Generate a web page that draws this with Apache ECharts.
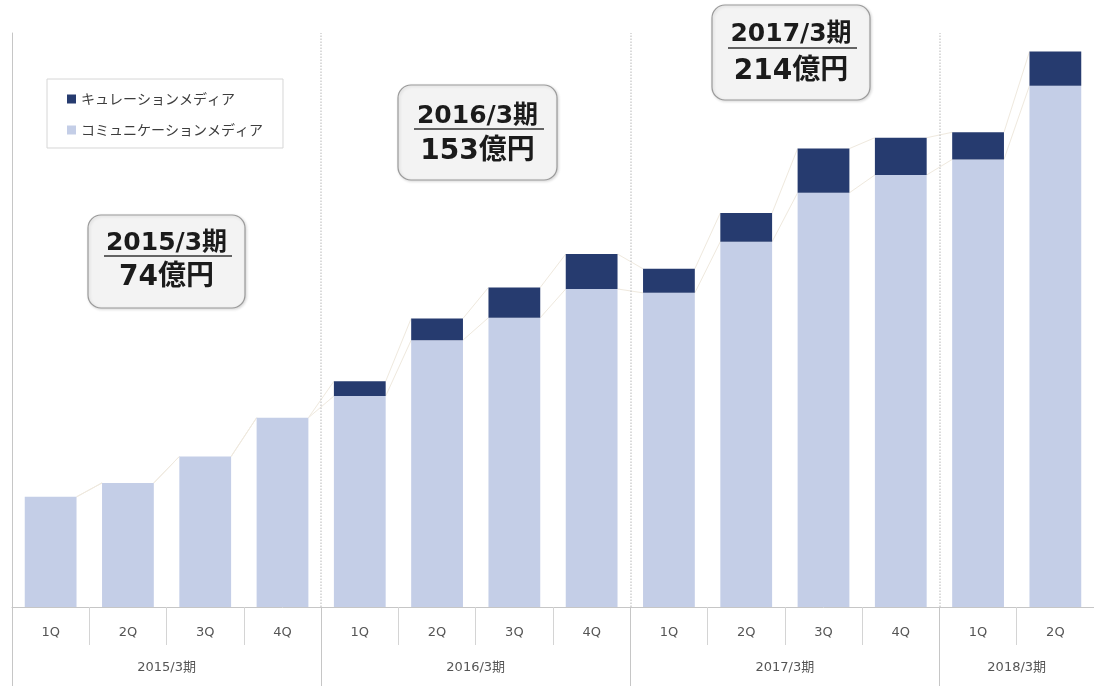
<!DOCTYPE html>
<html>
<head>
<meta charset="utf-8">
<script src="https://cdn.jsdelivr.net/npm/echarts@6/dist/echarts.min.js"></script>
<style>
  html, body { margin: 0; padding: 0; background: #fff; }
  #chart { width: 1094px; height: 686px; }
</style>
</head>
<body>
<div id="chart"></div>
<script>
// Quarterly sales (億円) by media type
const quarters = ['1Q', '2Q', '3Q', '4Q', '1Q', '2Q', '3Q', '4Q', '1Q', '2Q', '3Q', '4Q', '1Q', '2Q'];
const fiscalYears = ['2015/3期', '2016/3期', '2017/3期', '2018/3期'];
const yearBounds = [0, 4, 8, 12, 14];      // category index where each fiscal year starts/ends
const yearCenters = [2, 6, 10, 13];
const communication = [14.2, 16.0, 19.4, 24.4, 27.2, 34.4, 37.3, 41.0, 40.5, 47.1, 53.4, 55.7, 57.7, 67.2];
const curation      = [0, 0, 0, 0, 1.9, 2.8, 3.9, 4.5, 3.1, 3.7, 5.7, 4.8, 3.5, 4.4];
const annualTitles  = ['2015/3期', '2016/3期', '2017/3期'];
const annualTotals  = ['74億円', '153億円', '214億円'];

const LIGHT = '#c4cee7';
const DARK = '#263b6f';
const BAR_RATIO = 0.67;

const totals = communication.map((v, i) => +(v + curation[i]).toFixed(1));
const connectorData = [];
for (let i = 0; i < quarters.length - 1; i++) {
  connectorData.push([i, communication[i], totals[i], communication[i + 1], totals[i + 1]]);
}

// Rounded callout boxes with the fiscal-year totals
const calloutBoxes = [
  { x: 88,  y: 215, w: 157, h: 93, l1: 243, ul: 256, l2: 278 },
  { x: 398, y: 85,  w: 159, h: 95, l1: 116, ul: 129, l2: 152 },
  { x: 712, y: 5,   w: 158, h: 95, l1: 34,  ul: 48,  l2: 72 }
];
const FONT = "'DejaVu Sans', 'Noto Sans CJK JP', sans-serif";
const graphics = calloutBoxes.map((b, k) => ({
  type: 'group',
  children: [
    {
      type: 'rect',
      shape: { x: b.x, y: b.y, width: b.w, height: b.h, r: 13 },
      style: { fill: '#f3f3f3', stroke: '#9a9a9a', lineWidth: 1.2,
               shadowBlur: 3, shadowColor: 'rgba(0,0,0,0.15)', shadowOffsetX: 1, shadowOffsetY: 1 }
    },
    {
      type: 'text',
      x: b.x + b.w / 2, y: b.l1,
      style: { text: annualTitles[k], fill: '#1b1b1b', font: 'bold 25px ' + FONT,
               align: 'center', verticalAlign: 'middle' }
    },
    {
      type: 'line',
      shape: { x1: b.x + 16, y1: b.ul, x2: b.x + b.w - 13, y2: b.ul },
      style: { stroke: '#333', lineWidth: 1.6 }
    },
    {
      type: 'text',
      x: b.x + b.w / 2, y: b.l2,
      style: { text: annualTotals[k], fill: '#1b1b1b', font: 'bold 28px ' + FONT,
               align: 'center', verticalAlign: 'middle' }
    }
  ]
}));

const chart = echarts.init(document.getElementById('chart'), null, { renderer: 'canvas' });

chart.setOption({
  animation: false,
  backgroundColor: '#ffffff',
  grid: { left: 12, right: -6, top: 33, bottom: 79, containLabel: false },
  legend: {
    orient: 'vertical',
    left: 47, top: 79,
    data: ['キュレーションメディア', 'コミュニケーションメディア'],
    icon: 'rect',
    itemWidth: 9, itemHeight: 9, itemGap: 17,
    padding: [13, 20, 11, 20],
    borderColor: '#d6d6d6', borderWidth: 1,
    backgroundColor: '#ffffff',
    textStyle: { fontSize: 14, color: '#3d3d3d', fontFamily: "'Noto Sans CJK JP', sans-serif" }
  },
  xAxis: [
    {
      type: 'category',
      data: quarters,
      position: 'bottom',
      axisLine: { lineStyle: { color: '#c6c6c6', width: 1 } },
      axisTick: { show: true, interval: 0, length: 38, lineStyle: { color: '#d4d4d4' } },
      axisLabel: { interval: 0, margin: 19, color: '#555', fontSize: 13, fontFamily: FONT }
    },
    {
      type: 'value',
      min: 0, max: 14,
      position: 'bottom',
      axisLine: { show: false },
      splitLine: { show: false },
      axisTick: { show: true, customValues: yearBounds, length: 79, lineStyle: { color: '#c6c6c6' } },
      axisLabel: {
        customValues: yearCenters,
        margin: 54, color: '#555', fontSize: 13, fontFamily: FONT,
        formatter: v => fiscalYears[yearCenters.indexOf(v)] || ''
      }
    }
  ],
  yAxis: {
    type: 'value',
    min: 0, max: 74,
    axisLine: { show: true, lineStyle: { color: '#c6c6c6' } },
    axisTick: { show: false },
    axisLabel: { show: false },
    splitLine: { show: false }
  },
  graphic: graphics,
  series: [
    {
      // faint guides joining the tops of neighbouring bars
      type: 'custom',
      xAxisIndex: 0,
      z: 1,
      silent: true,
      data: connectorData,
      renderItem: (params, api) => {
        const i = api.value(0);
        const half = api.size([1, 0])[0] * BAR_RATIO / 2;
        const a1 = api.coord([i, api.value(1)]);
        const b1 = api.coord([i + 1, api.value(3)]);
        const a2 = api.coord([i, api.value(2)]);
        const b2 = api.coord([i + 1, api.value(4)]);
        const style = { stroke: '#efe9de', lineWidth: 1 };
        return {
          type: 'group',
          children: [
            { type: 'line', shape: { x1: a1[0] + half, y1: a1[1], x2: b1[0] - half, y2: b1[1] }, style },
            { type: 'line', shape: { x1: a2[0] + half, y1: a2[1], x2: b2[0] - half, y2: b2[1] }, style }
          ]
        };
      }
    },
    {
      name: 'コミュニケーションメディア',
      type: 'bar',
      stack: 'sales',
      xAxisIndex: 0,
      z: 2,
      barWidth: (BAR_RATIO * 100) + '%',
      itemStyle: { color: LIGHT },
      data: communication
    },
    {
      name: 'キュレーションメディア',
      type: 'bar',
      stack: 'sales',
      xAxisIndex: 0,
      z: 2,
      barWidth: (BAR_RATIO * 100) + '%',
      itemStyle: { color: DARK },
      data: curation
    },
    {
      // dotted dividers between fiscal years
      type: 'line',
      xAxisIndex: 1,
      data: [],
      silent: true,
      markLine: {
        silent: true,
        symbol: 'none',
        label: { show: false },
        lineStyle: { type: 'dotted', color: '#d0d0d0', width: 1.5 },
        data: yearBounds.slice(1, -1).map(v => ({ xAxis: v }))
      }
    }
  ]
});
</script>
</body>
</html>
